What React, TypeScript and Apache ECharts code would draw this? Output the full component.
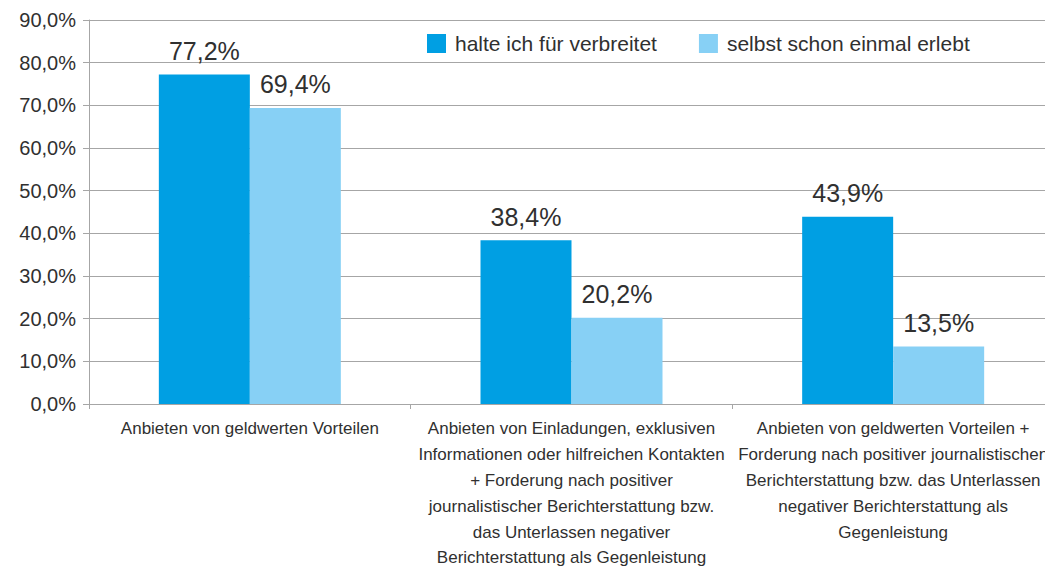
import React, { useEffect, useRef } from "react";
import * as echarts from "echarts";

const categories = [
  "Anbieten von geldwerten Vorteilen",
  "Anbieten von Einladungen, exklusiven\nInformationen oder hilfreichen Kontakten\n+ Forderung nach positiver\njournalistischer Berichterstattung bzw.\ndas Unterlassen negativer\nBerichterstattung als Gegenleistung",
  "Anbieten von geldwerten Vorteilen +\nForderung nach positiver journalistischen\nBerichterstattung bzw. das Unterlassen\nnegativer Berichterstattung als\nGegenleistung",
];
const seriesNames = ["halte ich für verbreitet", "selbst schon einmal erlebt"];
const verbreitet = [77.2, 38.4, 43.9];
const erlebt = [69.4, 20.2, 13.5];
const colors = ["#009FE3", "#87D0F5"];

const fmt = (v: number) => v.toFixed(1).replace(".", ",") + "%";

export default function App() {
  const ref = useRef<HTMLDivElement>(null);
  useEffect(() => {
    if (!ref.current) return;
    const chart = echarts.init(ref.current, null, { renderer: "svg" });
    const font = "'Liberation Sans', Arial, sans-serif";
    const gray = "#a6a6a6";
    const txt = "#303030";
    const barLabel = {
      show: true,
      position: "top",
      distance: 11,
      fontSize: 25,
      color: txt,
      fontFamily: font,
      formatter: (p: any) => fmt(p.value),
    };
    chart.setOption({
      animation: false,
      textStyle: { fontFamily: font, color: txt },
      grid: { left: 89, top: 20, width: 965, height: 384, outerBoundsMode: "none", containLabel: false },
      legend: {
        left: 427,
        top: 33,
        padding: 0,
        itemWidth: 19,
        itemHeight: 19,
        itemGap: 42,
        icon: "rect",
        textStyle: { fontSize: 21, fontFamily: font, color: txt, padding: [0, 0, 0, 4] },
        data: seriesNames,
      },
      xAxis: {
        type: "category",
        data: categories,
        axisLine: { lineStyle: { color: gray, width: 1 } },
        axisTick: { show: true, length: 5, lineStyle: { color: gray } },
        axisLabel: {
          fontSize: 17,
          lineHeight: 25.8,
          color: txt,
          fontFamily: font,
          margin: 12,
          interval: 0,
          verticalAlign: "top",
        },
      },
      yAxis: {
        type: "value",
        min: 0,
        max: 90,
        interval: 10,
        axisLine: { show: true, lineStyle: { color: gray, width: 1 } },
        axisTick: { show: true, length: 6, lineStyle: { color: gray } },
        splitLine: { lineStyle: { color: gray, width: 1 } },
        axisLabel: {
          formatter: (v: number) => fmt(v),
          fontSize: 20,
          color: txt,
          fontFamily: font,
          margin: 13,
        },
      },
      series: [
        {
          name: seriesNames[0],
          type: "bar",
          data: verbreitet,
          barWidth: 91,
          barGap: "0%",
          itemStyle: { color: colors[0] },
          label: barLabel,
        },
        {
          name: seriesNames[1],
          type: "bar",
          data: erlebt,
          barWidth: 91,
          barGap: "0%",
          itemStyle: { color: colors[1] },
          label: barLabel,
        },
      ],
    });
    return () => chart.dispose();
  }, []);
  return (
    <div
      ref={ref}
      style={{ position: "fixed", left: 0, top: 0, width: 1045, height: 569, background: "#fff" }}
    />
  );
}
